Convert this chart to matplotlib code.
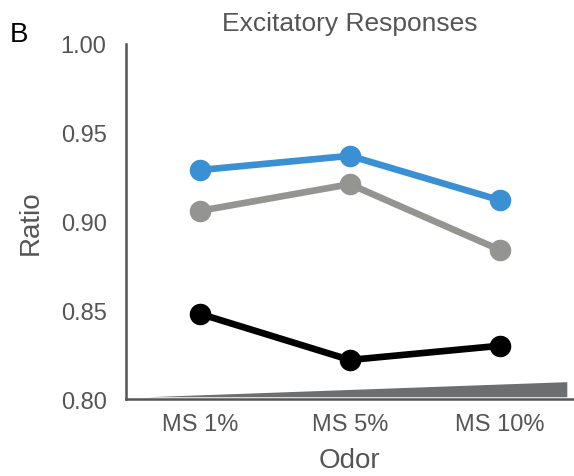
import matplotlib
matplotlib.use("Agg")
import matplotlib.pyplot as plt

plt.rcParams['font.family'] = ['Liberation Sans', 'DejaVu Sans']

categories = ["MS 1%", "MS 5%", "MS 10%"]
blue_vals = [0.929, 0.937, 0.912]
gray_vals = [0.906, 0.921, 0.884]
black_vals = [0.848, 0.822, 0.830]
yticks = [0.80, 0.85, 0.90, 0.95, 1.00]
ytick_labels = ["0.80", "0.85", "0.90", "0.95", "1.00"]
# concentration wedge (x start/end, y base, y top at left/right)
wedge_x = [-0.35, 2.45, 2.45]
wedge_y = [0.8015, 0.8095, 0.8010]

text_c = "#555555"
fig = plt.figure(figsize=(5.74, 4.77), dpi=100)
ax = fig.add_axes([0.2195, 0.1614, 0.7785, 0.7443])

x = list(range(len(categories)))
for vals, col in [(blue_vals, "#3b8fd3"), (gray_vals, "#949591"), (black_vals, "#000000")]:
    ax.plot(x, vals, color=col, lw=4.8, marker="o", ms=14.5, zorder=3)

ax.fill([wedge_x[0], wedge_x[1], wedge_x[2]], [wedge_y[2], wedge_y[1], wedge_y[2]],
        color="#6d6e70", lw=0, zorder=2)

ax.set_xlim(-0.493, 2.487)
ax.set_ylim(0.80, 1.00)
ax.set_xticks(x)
ax.set_xticklabels(categories)
ax.set_yticks(yticks)
ax.set_yticklabels(ytick_labels)
ax.tick_params(length=0, labelsize=17, colors=text_c)
ax.tick_params(axis="y", pad=14)
ax.tick_params(axis="x", pad=10)
for s in ["top", "right"]:
    ax.spines[s].set_visible(False)
for s in ["left", "bottom"]:
    ax.spines[s].set_color(text_c)
    ax.spines[s].set_linewidth(1.8)
ax.set_xlabel("Odor", fontsize=20, color=text_c, labelpad=9)
ax.set_ylabel("Ratio", fontsize=20, color=text_c, labelpad=12)
ax.set_title("Excitatory Responses", fontsize=19, color=text_c, pad=10)
fig.text(0.017, 0.912, "B", fontsize=20, color="black")

fig.savefig("out.png", dpi=100)
